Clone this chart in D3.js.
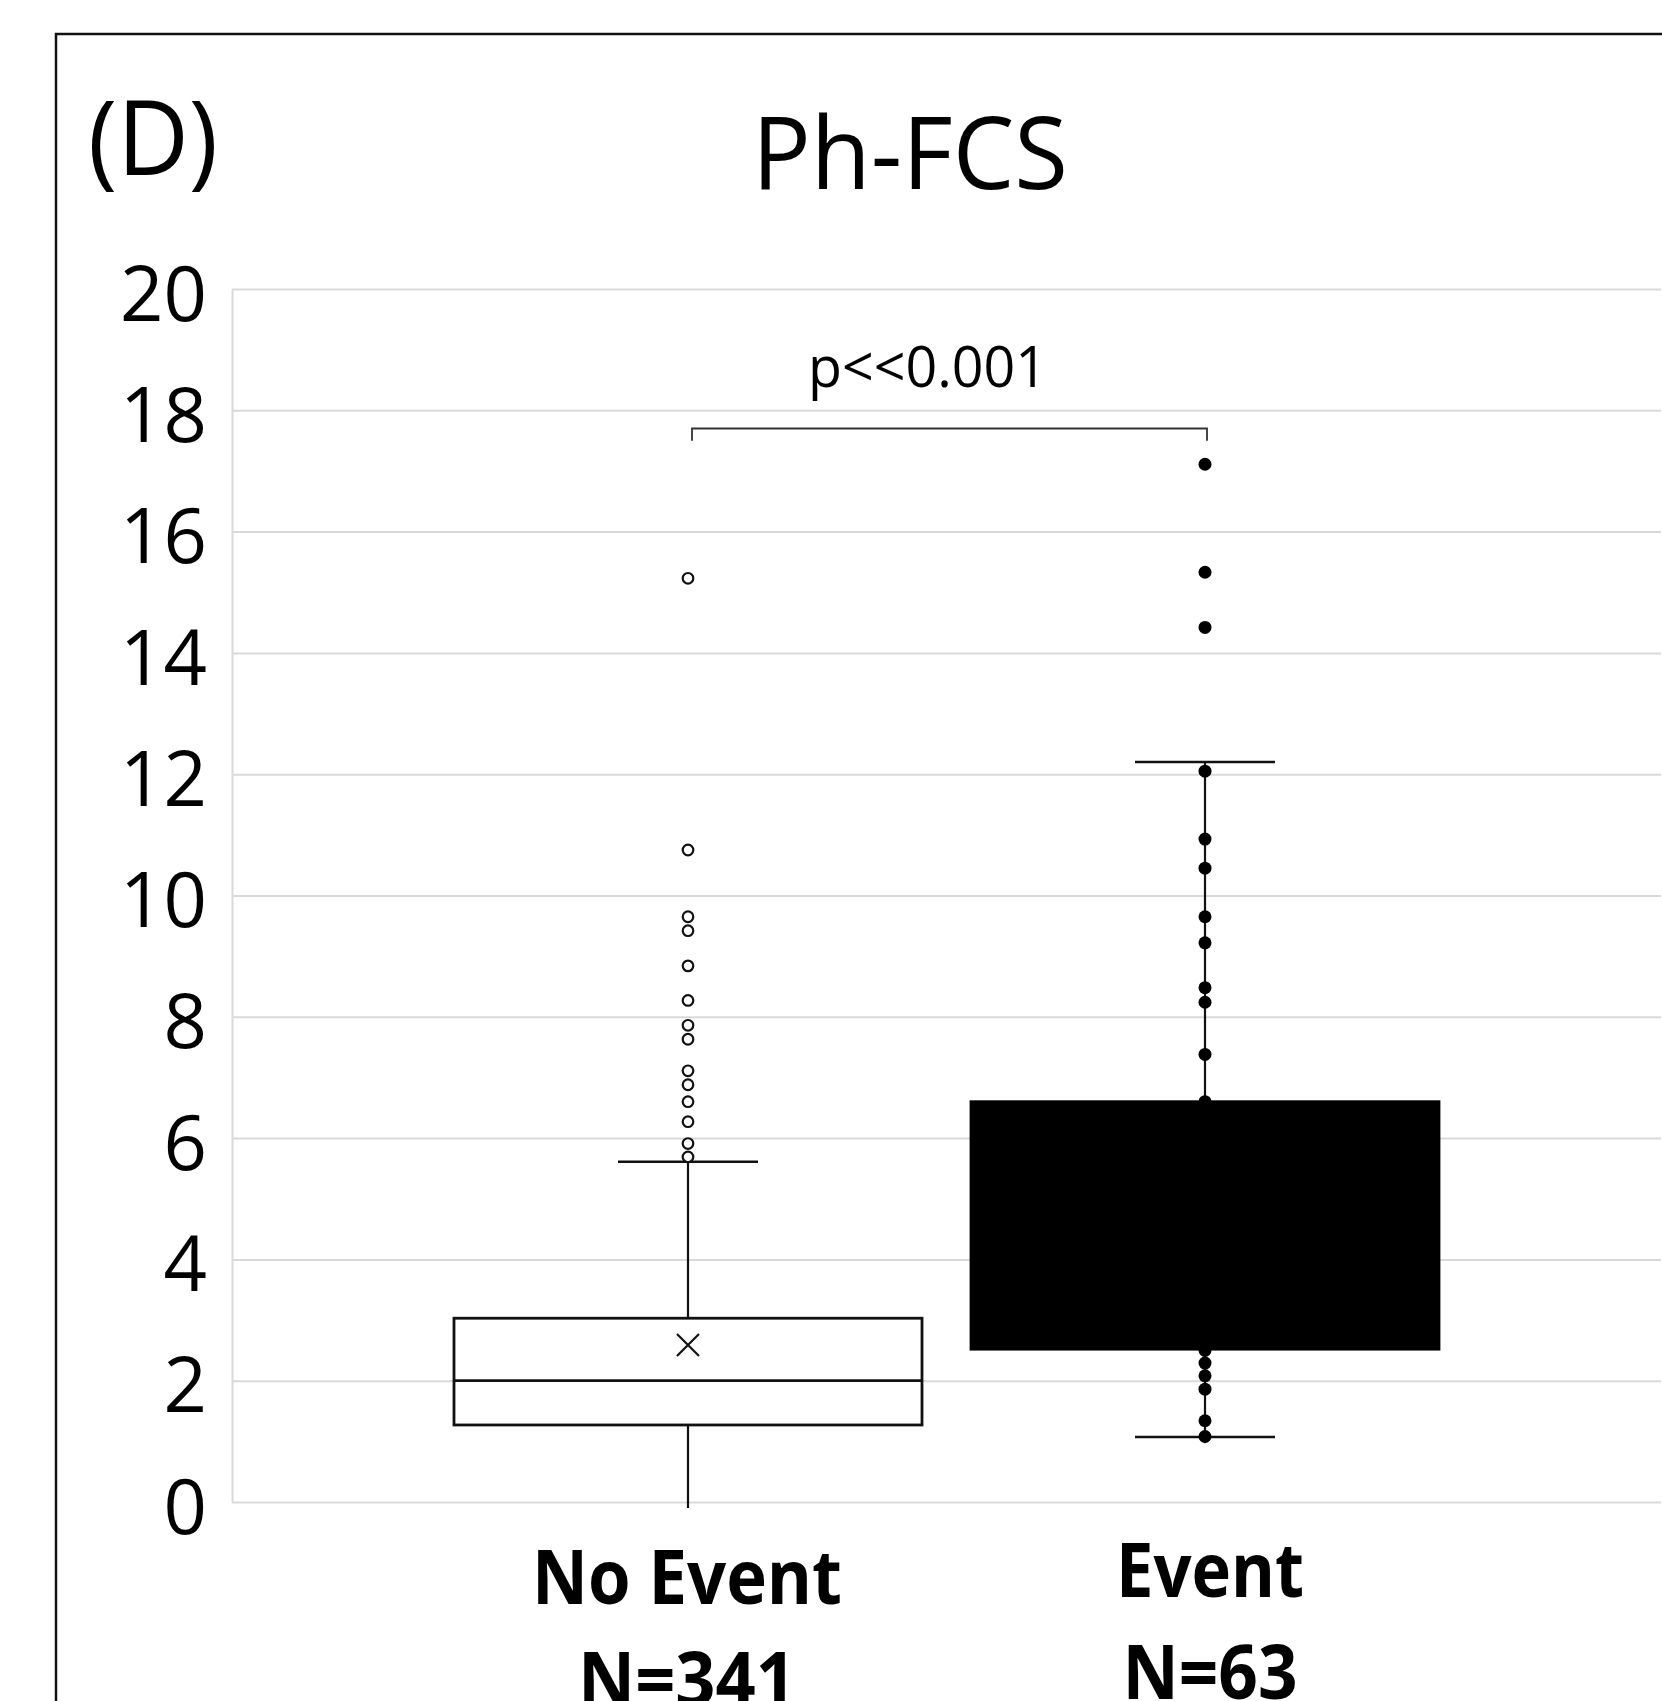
<!DOCTYPE html>
<html>
<head>
<meta charset="utf-8">
<script src="https://cdnjs.cloudflare.com/ajax/libs/d3/7.8.5/d3.min.js"></script>
<style>
  body { margin: 0; background: #fff; }
  text { font-family: "Open Sans", "Noto Sans", sans-serif; fill: #000; }
</style>
</head>
<body>
<script>
// values
const groups = ["No Event", "Event"];
const counts = [341, 63];
const q1 = [1.27, 2.52];
const medians = [2.0, 4.2];
const q3 = [3.03, 6.6];
const whiskerLow = [0, 1.07];
const whiskerHigh = [5.61, 12.2];
const means = [2.59, 4.9];
const noEventOutliers = [15.23, 10.75, 9.65, 9.42, 8.84, 8.27, 7.86, 7.63, 7.11, 6.88, 6.6, 6.27, 5.91, 5.69];
const eventPoints = [17.11, 15.33, 14.42, 12.05, 10.93, 10.45, 9.65, 9.22, 8.48, 8.24, 7.38, 6.6,
  2.5, 2.29, 2.08, 1.86, 1.34, 1.08];
const yTicks = [0, 2, 4, 6, 8, 10, 12, 14, 16, 18, 20];
const pText = "p<<0.001";
const bracket = { low: 17.5, high: 17.7 };

const width = 1662, height = 1701;

const svg = d3.select("body")
  .append("svg")
  .attr("width", width)
  .attr("height", height);

// outer frame (runs off the right and bottom)
svg.append("rect")
  .attr("x", 56).attr("y", 34)
  .attr("width", 1700).attr("height", 1800)
  .attr("fill", "none")
  .attr("stroke", "#111")
  .attr("stroke-width", 2.5);

const x = d3.scalePoint()
  .domain(groups)
  .range([232, 1661])
  .padding(0.882);

const y = d3.scaleLinear()
  .domain([0, 20])
  .range([1502, 289]);

const boxHalf = 234;
const capHalf = 70;

// y axis + gridlines
const yAxis = d3.axisLeft(y)
  .tickValues(yTicks)
  .tickSize(-(x.range()[1] - x.range()[0]))
  .tickSizeOuter(0)
  .tickPadding(25);
const ga = svg.append("g")
  .attr("transform", `translate(${x.range()[0]},0)`)
  .call(yAxis);
ga.select(".domain").attr("stroke", "#d9d9d9").attr("stroke-width", 2);
ga.selectAll(".tick line").attr("stroke", "#d9d9d9").attr("stroke-width", 2);
ga.selectAll(".tick text")
  .attr("font-size", 76)
  .attr("font-family", '"Open Sans", sans-serif')
  .attr("fill", "#000")
  .attr("dy", "0.41em");

// titles
svg.append("text")
  .attr("x", 88).attr("y", 175)
  .attr("font-size", 104)
  .attr("textLength", 130)
  .attr("lengthAdjust", "spacingAndGlyphs")
  .text("(D)");

svg.append("text")
  .attr("x", 752).attr("y", 189)
  .attr("font-size", 101)
  .attr("textLength", 316)
  .attr("lengthAdjust", "spacingAndGlyphs")
  .text("Ph-FCS");

// whiskers
groups.forEach((g, i) => {
  const cx = x(g);
  svg.append("line")
    .attr("x1", cx).attr("x2", cx)
    .attr("y1", y(q3[i])).attr("y2", y(whiskerHigh[i]))
    .attr("stroke", "#111").attr("stroke-width", 2.2);
  svg.append("line")
    .attr("x1", cx).attr("x2", cx)
    .attr("y1", y(q1[i])).attr("y2", y(whiskerLow[i]) + 6)
    .attr("stroke", "#111").attr("stroke-width", 2.2);
  svg.append("line")
    .attr("x1", cx - capHalf).attr("x2", cx + capHalf)
    .attr("y1", y(whiskerHigh[i])).attr("y2", y(whiskerHigh[i]))
    .attr("stroke", "#111").attr("stroke-width", 2.5);
  if (whiskerLow[i] > 0) {
    svg.append("line")
      .attr("x1", cx - capHalf).attr("x2", cx + capHalf)
      .attr("y1", y(whiskerLow[i])).attr("y2", y(whiskerLow[i]))
      .attr("stroke", "#111").attr("stroke-width", 2.5);
  }
});

// boxes
const fills = ["#fff", "#000"];
const strokes = ["#111", "#000"];
svg.selectAll("rect.box")
  .data(groups)
  .enter().append("rect")
  .attr("class", "box")
  .attr("x", d => x(d) - boxHalf)
  .attr("width", boxHalf * 2)
  .attr("y", (d, i) => y(q3[i]))
  .attr("height", (d, i) => y(q1[i]) - y(q3[i]))
  .attr("fill", (d, i) => fills[i])
  .attr("stroke", (d, i) => strokes[i])
  .attr("stroke-width", 2.8);

svg.selectAll("line.median")
  .data(groups)
  .enter().append("line")
  .attr("class", "median")
  .attr("x1", d => x(d) - boxHalf)
  .attr("x2", d => x(d) + boxHalf)
  .attr("y1", (d, i) => y(medians[i]))
  .attr("y2", (d, i) => y(medians[i]))
  .attr("stroke", (d, i) => strokes[i])
  .attr("stroke-width", 2.8);

// mean marker (only visible on the white box)
const mx = x(groups[0]), my = y(means[0]), m = 11;
svg.append("path")
  .attr("d", `M${mx - m},${my - m}L${mx + m},${my + m}M${mx - m},${my + m}L${mx + m},${my - m}`)
  .attr("stroke", "#111")
  .attr("stroke-width", 2.2);

// outliers / points
svg.selectAll("circle.out")
  .data(noEventOutliers)
  .enter().append("circle")
  .attr("class", "out")
  .attr("cx", x(groups[0]))
  .attr("cy", d => y(d))
  .attr("r", 5.3)
  .attr("fill", "#fff")
  .attr("stroke", "#111")
  .attr("stroke-width", 2.2);

svg.selectAll("circle.pt")
  .data(eventPoints)
  .enter().append("circle")
  .attr("class", "pt")
  .attr("cx", x(groups[1]))
  .attr("cy", d => y(d))
  .attr("r", 6.5)
  .attr("fill", "#000");

// significance bracket
const bx0 = x(groups[0]) + 4, bx1 = x(groups[1]) + 2;
svg.append("path")
  .attr("d", `M${bx0},${y(bracket.low)}V${y(bracket.high)}H${bx1}V${y(bracket.low)}`)
  .attr("fill", "none")
  .attr("stroke", "#333")
  .attr("stroke-width", 1.8);

svg.append("text")
  .attr("x", 808)
  .attr("y", 387)
  .attr("font-size", 57)
  .attr("textLength", 239)
  .attr("lengthAdjust", "spacingAndGlyphs")
  .text(pText);

// category labels
const labelY = [1604, 1597];
const labelW = [310, 188];
const countW = [218, 175];
groups.forEach((g, i) => {
  const cx = x(g) + (i ? 5 : -1);
  svg.append("text")
    .attr("x", cx - labelW[i] / 2)
    .attr("y", labelY[i])
    .attr("font-size", 76)
    .attr("font-weight", "bold")
    .attr("textLength", labelW[i])
    .attr("lengthAdjust", "spacingAndGlyphs")
    .text(g);
  svg.append("text")
    .attr("x", cx - countW[i] / 2)
    .attr("y", labelY[i] + 102)
    .attr("font-size", 76)
    .attr("font-weight", "bold")
    .attr("textLength", countW[i])
    .attr("lengthAdjust", "spacingAndGlyphs")
    .text("N=" + counts[i]);
});
</script>
</body>
</html>
